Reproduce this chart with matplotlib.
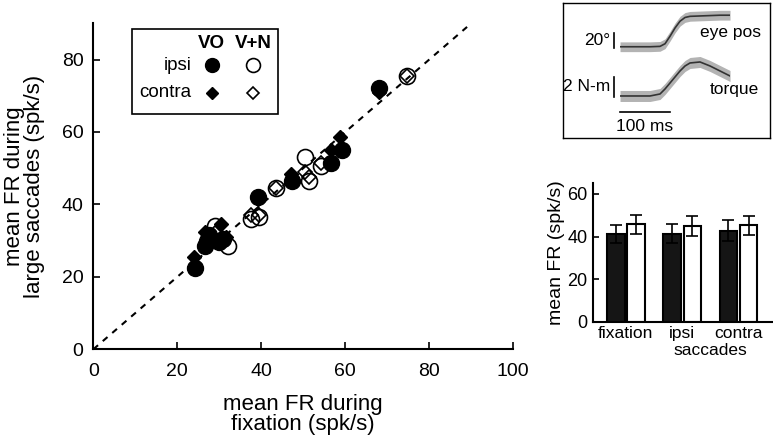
import matplotlib
matplotlib.use('Agg')
import matplotlib.pyplot as plt
import numpy as np
from matplotlib.patches import Rectangle
from matplotlib.lines import Line2D

plt.rcParams['font.family'] = ['Liberation Sans', 'DejaVu Sans']

# scatter data (mean FR, spk/s): fixation vs large saccades
vo_ipsi_x = [24.2, 26.5, 27.0, 27.5, 30.0, 31.0, 39.3, 47.2, 56.5, 59.3, 68.0]
vo_ipsi_y = [22.5, 28.5, 30.0, 31.5, 29.5, 30.5, 42.0, 46.5, 51.5, 55.0, 72.0]
vo_contra_x = [24.0, 26.5, 27.0, 30.5, 31.5, 39.3, 47.0, 56.5, 58.8, 68.0]
vo_contra_y = [25.5, 32.5, 30.0, 34.5, 31.0, 41.5, 48.5, 55.0, 58.5, 71.0]
vn_ipsi_x = [29.0, 32.0, 37.5, 39.5, 43.5, 50.5, 51.3, 54.2, 74.8]
vn_ipsi_y = [34.0, 28.5, 36.0, 36.5, 44.5, 53.0, 46.5, 50.5, 75.5]
vn_contra_x = [29.0, 37.5, 39.5, 43.5, 50.5, 51.3, 54.2, 74.8]
vn_contra_y = [32.0, 37.0, 37.0, 44.5, 49.0, 47.5, 51.5, 75.5]

# bar chart data
bar_groups = ['fixation', 'ipsi', 'contra']
bar_vo = [41.1, 41.4, 42.7]
bar_vo_err = [4.2, 4.3, 5.0]
bar_vn = [45.7, 45.0, 45.3]
bar_vn_err = [4.5, 4.7, 4.5]

# example traces (time in ms)
trace_t = [0, 20, 40, 60, 80, 90, 100, 110, 120, 130, 140, 160, 180, 200, 220]
eye_pos = [0, 0, 0, 0, 0.5, 4, 14, 25, 34, 39, 40.5, 41, 41.5, 42, 42]
eye_sd = 6.5
torque = [0, 0, 0, 0, 0.2, 0.7, 1.3, 1.9, 2.5, 3.0, 3.3, 3.4, 3.0, 2.5, 2.0]
torque_sd = 0.55

fig = plt.figure(figsize=(7.73, 4.37), dpi=100)

# ---- main scatter ----
ax = fig.add_axes([0.1207, 0.2007, 0.5433, 0.746])
ax.plot([0, 89], [0, 89], '--', color='black', lw=1.5, dashes=(3, 3), zorder=1)
ax.plot(vo_ipsi_x, vo_ipsi_y, 'o', ms=11.5, color='black', mec='black', zorder=3)
ax.plot(vo_contra_x, vo_contra_y, 'D', ms=7.5, color='black', mec='black', zorder=3)
ax.plot(vn_ipsi_x, vn_ipsi_y, 'o', ms=11.5, mfc='none', mec='black', mew=1.2, zorder=4)
ax.plot(vn_contra_x, vn_contra_y, 'D', ms=7, mfc='none', mec='black', mew=1.2, zorder=4)
ax.set_xlim(0, 100)
ax.set_ylim(0, 90)
ax.set_xticks(np.arange(0, 101, 20))
ax.set_yticks(np.arange(0, 81, 20))
for s in ['top', 'right']:
    ax.spines[s].set_visible(False)
for s in ['left', 'bottom']:
    ax.spines[s].set_linewidth(1.5)
ax.tick_params(direction='in', length=5, width=1.2, labelsize=14, pad=10)
ax.tick_params(axis='y', pad=7)
ax.set_xlabel('mean FR during\nfixation (spk/s)', fontsize=16, linespacing=0.95, labelpad=10)
ax.set_ylabel('mean FR during\nlarge saccades (spk/s)', fontsize=16, linespacing=0.95, labelpad=12)

# legend box drawn by hand (two-column layout)
tr = ax.transAxes
ax.add_patch(Rectangle((0.0933, 0.7227), 0.3476, 0.2607, transform=tr, fill=False,
                       lw=1.2, ec='black', zorder=5))
ax.text(0.2819, 0.938, 'VO', transform=tr, ha='center', va='center', fontsize=13.5, fontweight='bold')
ax.text(0.381, 0.938, 'V+N', transform=tr, ha='center', va='center', fontsize=13.5, fontweight='bold')
ax.text(0.234, 0.872, 'ipsi', transform=tr, ha='right', va='center', fontsize=13.5)
ax.text(0.234, 0.787, 'contra', transform=tr, ha='right', va='center', fontsize=13.5)
ax.add_line(Line2D([0.2819], [0.872], marker='o', ms=10, color='black', transform=tr))
ax.add_line(Line2D([0.381], [0.872], marker='o', ms=10, mfc='none', mec='black', mew=1.2, transform=tr))
ax.add_line(Line2D([0.2819], [0.787], marker='D', ms=6.5, color='black', transform=tr))
ax.add_line(Line2D([0.381], [0.787], marker='D', ms=6, mfc='none', mec='black', mew=1.2, transform=tr))

# ---- inset traces ----
frame = fig.add_axes([0.7283, 0.6849, 0.2678, 0.3082])
frame.set_xticks([])
frame.set_yticks([])
for s in frame.spines.values():
    s.set_linewidth(1.0)

eye = np.array(eye_pos)
ax_eye = fig.add_axes([0.8021, 0.8741, 0.1423, 0.1076])
ax_eye.fill_between(trace_t, eye - eye_sd, eye + eye_sd, color='#b3b3b3', lw=0)
ax_eye.plot(trace_t, eye, color='#333333', lw=1.2)
ax_eye.set_xlim(0, 220)
ax_eye.set_ylim(-11, 51.6)
ax_eye.axis('off')
ax_eye.plot([-12, -12], [-2, 18], color='black', lw=1.2, clip_on=False)
ax_eye.text(-20, 8, '20°', ha='right', va='center', fontsize=12.5)
ax_eye.text(160, 19.6, 'eye pos', ha='left', va='center', fontsize=12.5)

tq = np.array(torque)
ax_tq = fig.add_axes([0.8021, 0.7529, 0.1423, 0.1213])
ax_tq.fill_between(trace_t, tq - torque_sd, tq + torque_sd, color='#b3b3b3', lw=0)
ax_tq.plot(trace_t, tq, color='#333333', lw=1.2)
ax_tq.set_xlim(0, 220)
ax_tq.set_ylim(-1.2, 4.1)
ax_tq.axis('off')
ax_tq.plot([-12, -12], [-0.1, 1.9], color='black', lw=1.2, clip_on=False)
ax_tq.text(-20, 0.9, '2 N-m', ha='right', va='center', fontsize=12.5)
ax_tq.text(180, 0.6, 'torque', ha='left', va='center', fontsize=12.5)
ax_tq.plot([0, 100], [-1.57, -1.57], color='black', lw=1.2, clip_on=False)
ax_tq.text(50, -3.1, '100 ms', ha='center', va='center', fontsize=12.5)

# ---- bar chart ----
bx = fig.add_axes([0.7675, 0.2638, 0.2308, 0.3167])
pos = np.arange(1, len(bar_groups) + 1)
bw = 0.31
ekw = dict(ecolor='black', elinewidth=1.2, capsize=4, capthick=1.2)
bx.bar(pos - 0.18, bar_vo, bw, yerr=bar_vo_err, color='#151515', edgecolor='black',
       lw=1.5, error_kw=ekw)
bx.bar(pos + 0.18, bar_vn, bw, yerr=bar_vn_err, color='white', edgecolor='black',
       lw=1.5, error_kw=ekw)
bx.set_xlim(0.42, 3.59)
bx.set_ylim(0, 65)
bx.set_yticks([0, 20, 40, 60])
bx.set_xticks(pos)
bx.set_xticklabels(bar_groups)
for s in ['top', 'right']:
    bx.spines[s].set_visible(False)
for s in ['left', 'bottom']:
    bx.spines[s].set_linewidth(1.5)
bx.tick_params(axis='y', direction='in', length=4, width=1.2, labelsize=13, pad=4)
bx.tick_params(axis='x', length=0, labelsize=12.5, pad=3)
bx.text(2.5, -0.21, 'saccades', transform=bx.get_xaxis_transform(), ha='center',
        va='center', fontsize=12.5)
bx.set_ylabel('mean FR (spk/s)', fontsize=14, labelpad=2)

fig.savefig('out.png', dpi=100)
